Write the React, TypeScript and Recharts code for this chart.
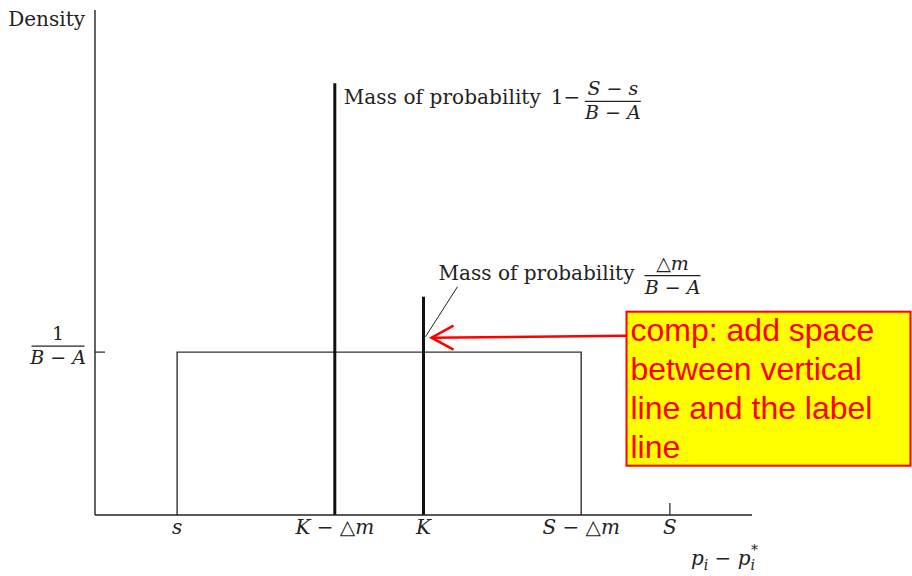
import React from "react";
import {
  ComposedChart,
  Line,
  XAxis,
  YAxis,
  ReferenceLine,
} from "recharts";

// model quantities (x in price-gap units, y in density units)
const s = 10;
const S = 70;
const K = 40;
const dm = 10.8;
const density = 1; // 1/(B-A)

const xTicks = [s, K - dm, K, S - dm, S];
const xTickLabels = ["s", "K − △m", "K", "S − △m", "S"];
const yTicks = [density];

// uniform density outline from s to S - dm
const boxX = [s, s, S - dm, S - dm];
const boxY = [0, density, density, 0];
const boxData = boxX.map((x, i) => ({ x, y: boxY[i] }));

// probability masses at K - dm and K
const massX = [K - dm, K];
const massHeight = [2.65, 1.34];

const SERIF = "'DejaVu Serif', serif";
const SANS = "'Liberation Sans', Arial, sans-serif";
const FS = 19;
const INK = "#222";

function MathText({ str }: { str: string }) {
  return (
    <>
      {str.split("").map((c, i) =>
        /[A-Za-z]/.test(c) ? (
          <tspan key={i} fontStyle="italic">{c}</tspan>
        ) : (
          <tspan key={i}>{c}</tspan>
        )
      )}
    </>
  );
}

function Fraction({ cx, y, num, den, w }: any) {
  return (
    <g>
      <text x={cx} y={y - 6} textAnchor="middle" fontFamily={SERIF} fontSize={FS} fill={INK}>
        <MathText str={num} />
      </text>
      <line x1={cx - w / 2} x2={cx + w / 2} y1={y} y2={y} stroke={INK} strokeWidth={1.2} />
      <text x={cx} y={y + 18} textAnchor="middle" fontFamily={SERIF} fontSize={FS} fill={INK}>
        <MathText str={den} />
      </text>
    </g>
  );
}

const XTick = (props: any) => {
  const { x, y, payload, index } = props;
  const label = xTickLabels[index] ?? "";
  return (
    <g>
      {payload.value === S && (
        <line x1={x} x2={x} y1={y - 12} y2={y} stroke={INK} strokeWidth={1.2} />
      )}
      <text x={x} y={y + 19} textAnchor="middle" fontFamily={SERIF} fontSize={FS + 1} fill={INK}>
        <MathText str={label} />
      </text>
    </g>
  );
};

const YTick = (props: any) => {
  const { x, y } = props;
  return (
    <g>
      <line x1={x} x2={x + 10} y1={y} y2={y} stroke={INK} strokeWidth={1.2} />
      <Fraction cx={x - 37} y={y - 6} num="1" den="B − A" w={53} />
    </g>
  );
};

const BigMassLabel = (props: any) => {
  const { x, y } = props.viewBox;
  return (
    <g>
      <text x={x + 9} y={y + 21} fontFamily={SERIF} fontSize={20} textLength={197} fill={INK}>
        Mass of probability
      </text>
      <text x={x + 216} y={y + 21} fontFamily={SERIF} fontSize={20} fill={INK}>
        1−
      </text>
      <Fraction cx={x + 278} y={y + 18} num="S − s" den="B − A" w={56} />
    </g>
  );
};

const SmallMassLabel = (props: any) => {
  const { x, y } = props.viewBox;
  const tipX = x + 2;
  const tipY = y + 40;
  return (
    <g>
      <text x={x + 15} y={y - 17} fontFamily={SERIF} fontSize={20} textLength={196} fill={INK}>
        Mass of probability
      </text>
      <Fraction cx={x + 249} y={y - 21} num="△m" den="B − A" w={56} />
      <line x1={x + 34} y1={y - 10} x2={tipX} y2={tipY} stroke={INK} strokeWidth={1} />
      {/* review callout */}
      <line x1={x + 204} y1={y + 39} x2={x + 8} y2={y + 41} stroke="#ff0000" strokeWidth={2.5} />
      <polyline
        points={`${x + 30},${y + 29} ${x + 8},${y + 41} ${x + 30},${y + 53}`}
        fill="none"
        stroke="#ff0000"
        strokeWidth={2.5}
      />
      <rect x={x + 203} y={y + 15} width={284} height={154} fill="#ffff00" stroke="#ff0000" strokeWidth={2} />
      {["comp: add space", "between vertical", "line and the label", "line"].map((t, i) => (
        <text key={i} x={x + 207} y={y + 44 + i * 39} fontFamily={SANS} fontSize={32} fill="#ff0000">
          {t}
        </text>
      ))}
    </g>
  );
};

const DensityLabel = (props: any) => {
  const { x, y } = props.viewBox;
  return (
    <text x={x - 9} y={y + 16} textAnchor="end" fontFamily={SERIF} fontSize={20} fill={INK}>
      Density
    </text>
  );
};

const GapLabel = (props: any) => {
  const { x, y, width } = props.viewBox;
  return (
    <text x={x + width + 6} y={y + 50} textAnchor="end" fontFamily={SERIF} fontSize={20} fill={INK}>
      <tspan fontStyle="italic">p</tspan>
      <tspan fontStyle="italic" fontSize={14} dy={5}>i</tspan>
      <tspan dy={-5}> − </tspan>
      <tspan fontStyle="italic">p</tspan>
      <tspan fontStyle="italic" fontSize={14} dy={5}>i</tspan>
      <tspan fontSize={14} dx={-4} dy={-15}>*</tspan>
    </text>
  );
};

export default function App() {
  return (
    <div style={{ position: "absolute", left: 0, top: 0, background: "#fff" }}>
      <ComposedChart
        width={912}
        height={576}
        data={boxData}
        margin={{ top: 10, right: 160, bottom: 60, left: 94 }}
      >
        <XAxis
          dataKey="x"
          type="number"
          domain={[0, 80]}
          ticks={xTicks}
          interval={0}
          height={1}
          tickSize={0}
          tickMargin={0}
          tickLine={false}
          axisLine={{ stroke: INK, strokeWidth: 1.4 }}
          tick={<XTick />}
          label={<GapLabel />}
        />
        <YAxis
          type="number"
          domain={[0, 3.1]}
          ticks={yTicks}
          interval={0}
          width={1}
          tickSize={0}
          tickMargin={0}
          tickLine={false}
          axisLine={{ stroke: INK, strokeWidth: 1.4 }}
          tick={<YTick />}
          label={<DensityLabel />}
        />
        <Line
          dataKey="y"
          type="linear"
          stroke="#333"
          strokeWidth={1.4}
          dot={false}
          activeDot={false}
          isAnimationActive={false}
        />
        <ReferenceLine
          segment={[{ x: massX[0], y: 0 }, { x: massX[0], y: massHeight[0] }]}
          stroke="#111"
          strokeWidth={3}
          label={<BigMassLabel />}
        />
        <ReferenceLine
          segment={[{ x: massX[1], y: 0 }, { x: massX[1], y: massHeight[1] }]}
          stroke="#111"
          strokeWidth={3}
          label={<SmallMassLabel />}
        />
      </ComposedChart>
    </div>
  );
}
